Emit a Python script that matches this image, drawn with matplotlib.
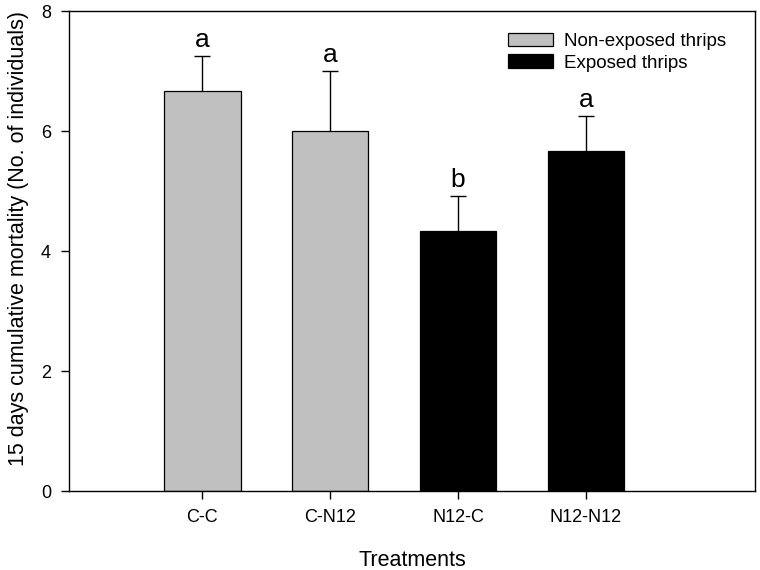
import matplotlib
matplotlib.use("Agg")
import matplotlib.pyplot as plt
import numpy as np

plt.rcParams["font.family"] = ["Liberation Sans", "DejaVu Sans"]

treatments = ["C-C", "C-N12", "N12-C", "N12-N12"]
mortality = [6.67, 6.0, 4.33, 5.67]
sem = [0.58, 1.0, 0.58, 0.58]
letters = ["a", "a", "b", "a"]
groups = ["Non-exposed thrips", "Non-exposed thrips", "Exposed thrips", "Exposed thrips"]
group_colors = {"Non-exposed thrips": "#c0c0c0", "Exposed thrips": "#000000"}

fig = plt.figure(figsize=(7.6, 5.7), dpi=100)
ax = fig.add_axes([69 / 760, 1 - 491 / 570, (755 - 69) / 760, (491 - 11) / 570])

x = np.arange(len(treatments))
mortality = np.array(mortality)
sem = np.array(sem)
colors = [group_colors[g] for g in groups]
ax.bar(x, mortality, width=0.6, color=colors, edgecolor="black", linewidth=0.9, zorder=2)
# one-sided (upper) error bars
ax.vlines(x, mortality, mortality + sem, color="black", linewidth=1.0, zorder=3)
ax.plot(x, mortality + sem, linestyle="none", marker="_", markersize=11,
        markeredgewidth=1.0, color="black", zorder=3)

for xi, top, lab in zip(x, mortality + sem, letters):
    ax.text(xi, top + 0.15, lab, ha="center", va="baseline", fontsize=19)

ax.set_xlim(-1.04, 4.32)
ax.set_ylim(0, 8)
ax.set_yticks([0, 2, 4, 6, 8])
ax.set_xticks(x)
ax.set_xticklabels(treatments)
ax.tick_params(axis="both", direction="out", length=6, width=1, labelsize=13, pad=7)
for sp in ax.spines.values():
    sp.set_linewidth(1.0)

ax.set_xlabel("Treatments", fontsize=15.5, labelpad=17)
ax.set_ylabel("15 days cumulative mortality (No. of individuals)", fontsize=15.5)
ax.yaxis.set_label_coords(-0.058, 0.527)

handles = [plt.Rectangle((0, 0), 1, 1, facecolor=group_colors[g], edgecolor="black", linewidth=0.9)
           for g in group_colors]
ax.legend(handles, list(group_colors), loc="upper left", bbox_to_anchor=(0.64, 0.955),
          frameon=False, fontsize=13.5, handlelength=2.4, handleheight=0.7,
          handletextpad=0.6, labelspacing=0.25, borderpad=0, borderaxespad=0)

fig.savefig("out.png", dpi=100)
